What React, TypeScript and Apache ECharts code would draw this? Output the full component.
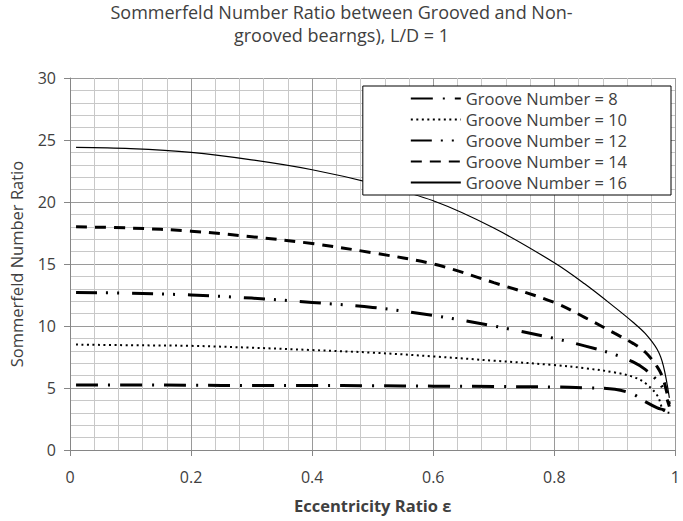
import React, { useEffect, useRef } from "react";
import * as echarts from "echarts";

// Eccentricity ratio sample points (x axis)
const eccentricity = [0.01, 0.1, 0.2, 0.3, 0.4, 0.5, 0.6, 0.7, 0.8, 0.85, 0.9, 0.93, 0.95, 0.97, 0.98, 0.99];

// Sommerfeld number ratio for each groove count
const groove8 = [5.25, 5.25, 5.22, 5.2, 5.2, 5.18, 5.15, 5.12, 5.08, 5.02, 4.9, 4.5, 3.9, 3.4, 3.25, 3.1];
const groove10 = [8.5, 8.45, 8.4, 8.25, 8.06, 7.85, 7.55, 7.2, 6.85, 6.6, 6.25, 5.9, 5.4, 4.4, 3.2, 3.0];
const groove12 = [12.7, 12.65, 12.5, 12.25, 11.9, 11.5, 10.85, 10.0, 9.0, 8.4, 7.7, 7.1, 6.5, 5.6, 4.9, 3.5];
const groove14 = [18.0, 17.9, 17.65, 17.2, 16.65, 15.9, 15.0, 13.5, 11.9, 10.7, 9.4, 8.6, 7.9, 6.7, 5.7, 3.7];
const groove16 = [24.4, 24.3, 24.0, 23.4, 22.6, 21.5, 20.1, 17.9, 15.1, 13.4, 11.5, 10.3, 9.4, 8.1, 6.8, 4.2];

const seriesNames = [
  "Groove Number = 8",
  "Groove Number = 10",
  "Groove Number = 12",
  "Groove Number = 14",
  "Groove Number = 16",
];

const titleLines = [
  "Sommerfeld Number Ratio between Grooved and Non-",
  "grooved bearngs), L/D = 1",
];

const FONT = "'Open Sans', 'Liberation Sans', sans-serif";
const TEXT = "#404040";

const pairs = (ys: number[]) => eccentricity.map((x, i) => [x, ys[i]]);

export default function App() {
  const ref = useRef<HTMLDivElement>(null);

  useEffect(() => {
    if (!ref.current) return;
    const chart = echarts.init(ref.current, undefined, { renderer: "svg" });

    const lineSeries = (name: string, ys: number[], width: number, dash: number[] | "solid") => ({
      name,
      type: "line",
      data: pairs(ys),
      symbol: "none",
      showSymbol: false,
      smooth: 0.35,
      lineStyle: { color: "#000", width, type: dash, cap: "butt" },
      itemStyle: { color: "#000" },
    });

    const titleStyle = {
      fontFamily: FONT,
      fontSize: 18,
      fontWeight: "normal",
      color: TEXT,
    };

    chart.setOption({
      animation: false,
      backgroundColor: "#fff",
      textStyle: { fontFamily: FONT },
      title: [
        { text: titleLines[0], left: "center", top: 3, padding: 0, textStyle: titleStyle },
        { text: titleLines[1], left: "center", top: 26, padding: 0, textStyle: titleStyle },
      ],
      legend: {
        orient: "vertical",
        right: 12,
        top: 86,
        align: "left",
        itemWidth: 50,
        itemHeight: 14,
        itemGap: 4,
        itemTextGap: 3,
        padding: [4, 44, 4, 47],
        backgroundColor: "#fff",
        borderColor: "#000",
        borderWidth: 1,
        borderRadius: 0,
        itemStyle: { opacity: 0 },
        textStyle: { fontFamily: FONT, fontSize: 16.5, color: TEXT },
        data: seriesNames,
      },
      grid: { left: 70, right: 4, top: 78, bottom: 71, containLabel: false },
      xAxis: {
        type: "value",
        min: 0,
        max: 1,
        interval: 0.2,
        name: "Eccentricity Ratio ε",
        nameLocation: "middle",
        nameGap: 47,
        nameTextStyle: { fontFamily: FONT, fontSize: 16.5, fontWeight: "bold", color: TEXT },
        axisLine: { show: true, lineStyle: { color: "#868686", width: 1 } },
        axisTick: { show: true, length: 6, lineStyle: { color: "#868686" } },
        axisLabel: { fontFamily: FONT, fontSize: 16, color: TEXT, margin: 19 },
        splitLine: { show: true, lineStyle: { color: "#9a9a9a", width: 1 } },
        minorTick: { show: false, splitNumber: 5 },
        minorSplitLine: { show: true, lineStyle: { color: "#c8c8c8", width: 1 } },
      },
      yAxis: {
        type: "value",
        min: 0,
        max: 30,
        interval: 5,
        name: "Sommerfeld Number Ratio",
        nameLocation: "middle",
        nameGap: 45,
        nameTextStyle: { fontFamily: FONT, fontSize: 16.5, color: TEXT },
        axisLine: { show: true, lineStyle: { color: "#868686", width: 1 } },
        axisTick: { show: true, length: 6, lineStyle: { color: "#868686" } },
        axisLabel: { fontFamily: FONT, fontSize: 16, color: TEXT, margin: 14 },
        splitLine: { show: true, lineStyle: { color: "#9a9a9a", width: 1 } },
        minorTick: { show: false, splitNumber: 5 },
        minorSplitLine: { show: true, lineStyle: { color: "#c8c8c8", width: 1 } },
      },
      series: [
        lineSeries(seriesNames[0], groove8, 3, [22, 10, 2, 10]),
        lineSeries(seriesNames[1], groove10, 2, [2, 3.5]),
        lineSeries(seriesNames[2], groove12, 3, [21, 9, 2, 9, 2, 13]),
        lineSeries(seriesNames[3], groove14, 3, [11, 8]),
        lineSeries(seriesNames[4], groove16, 1.2, "solid"),
      ],
    });

    return () => chart.dispose();
  }, []);

  return (
    <div
      ref={ref}
      style={{ position: "fixed", left: 0, top: 0, width: 683, height: 521, background: "#fff" }}
    />
  );
}
